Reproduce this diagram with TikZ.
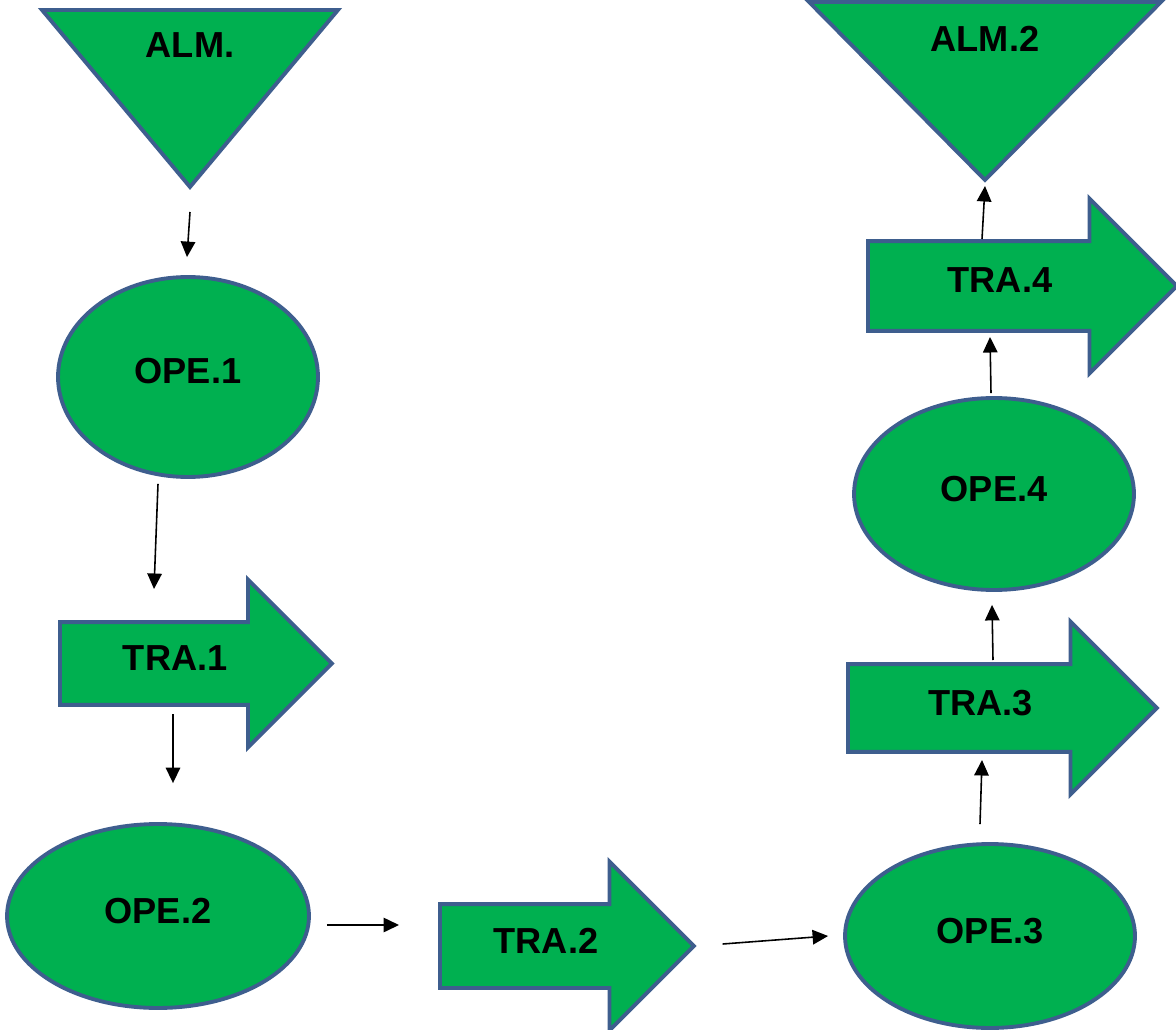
\documentclass[tikz,border=0pt]{standalone}
\usepackage{fontspec}
\setmainfont{Liberation Sans}
\usetikzlibrary{shapes.geometric, shapes.arrows, arrows.meta, calc, positioning}
\definecolor{fillgreen}{HTML}{00B050}
\definecolor{edgeblue}{HTML}{3E5E8E}

\tikzset{
  box/.style={draw=edgeblue, fill=fillgreen, line width=2.2pt,
    font=\fontsize{20.6}{24}\selectfont\bfseries,
    text height=0.52cm, text depth=0.24cm},
  ope/.style={box, ellipse, inner sep=0pt},
  tra/.style={box, single arrow, single arrow head extend=0.85cm, inner xsep=2pt, inner ysep=0.41cm},
  alm/.style={box, isosceles triangle, shape border rotate=270,
    isosceles triangle stretches, inner xsep=0pt, inner ysep=-0.35cm, text depth=0.64cm},
  conn/.style={line width=0.9pt, -{Triangle[length=0.31cm, width=0.29cm]}}
}

\begin{document}
\begin{tikzpicture}[x=0.02cm, y=-0.02cm]
    \useasboundingbox (0,0) rectangle (1176,1030);
    % storage and operations
    \node[alm, anchor=apex, minimum width=5.92cm, minimum height=3.54cm] (ALM) at (190,192) {ALM.};
    \node[ope, minimum width=5.2cm, minimum height=4cm] (OPE1) at (188,377) {OPE.1};
    \node[tra, anchor=tail, minimum height=5.44cm] (T1) at (58,663.5) {TRA.1};
    \node[ope, minimum width=6.04cm, minimum height=3.68cm] (OPE2) at (158,916) {OPE.2};
    \node[tra, anchor=tail, minimum height=5.08cm, inner ysep=0.42cm] (T2) at (438,946) {TRA.2};
    \node[ope, minimum width=5.8cm, minimum height=3.68cm] (OPE3) at (990,936) {OPE.3};
    \node[tra, anchor=tail, minimum height=6.18cm, inner ysep=0.46cm] (T3) at (846,708) {TRA.3};
    \node[ope, minimum width=5.6cm, minimum height=3.84cm] (OPE4) at (994,494) {OPE.4};
    \node[tra, anchor=tail, minimum height=6.18cm, inner ysep=0.48cm] (T4) at (866,286) {TRA.4};
    \node[alm, anchor=apex, minimum width=7.04cm, minimum height=3.56cm] (ALM2) at (985,185) {ALM.2};

    % flow
    \draw[conn] ($(ALM.apex)+(0,20)$) -- ($(OPE1.north)+(-1,-18)$);
    \draw[conn] ($(OPE1.south)+(-30,5)$) -- ($(T1.tail)+(96,-74.5)$);
    \draw[conn] ($(T1.tail)+(115,50.5)$) -- ($(OPE2.north)+(15,-39)$);
    \draw[conn] ($(OPE2.east)+(16,9)$) -- ($(T2.tail)+(-39,-21)$);
    \draw[conn] ($(T2.tip)+(26,-2)$) -- ($(OPE3.west)+(-15,0)$);
    \draw[conn] ($(OPE3.north)+(-10,-18)$) -- ($(T3.tail)+(136,52)$);
    \draw[conn] ($(T3.tail)+(147,-48)$) -- ($(OPE4.south)+(-2,13)$);
    \draw[conn] ($(OPE4.north)+(-3,-3)$) -- ($(T4.tail)+(124,51)$);
    \draw[conn] ($(T4.tail)+(116,-47)$) -- ($(ALM2.apex)+(0,1)$);
\end{tikzpicture}
\end{document}
